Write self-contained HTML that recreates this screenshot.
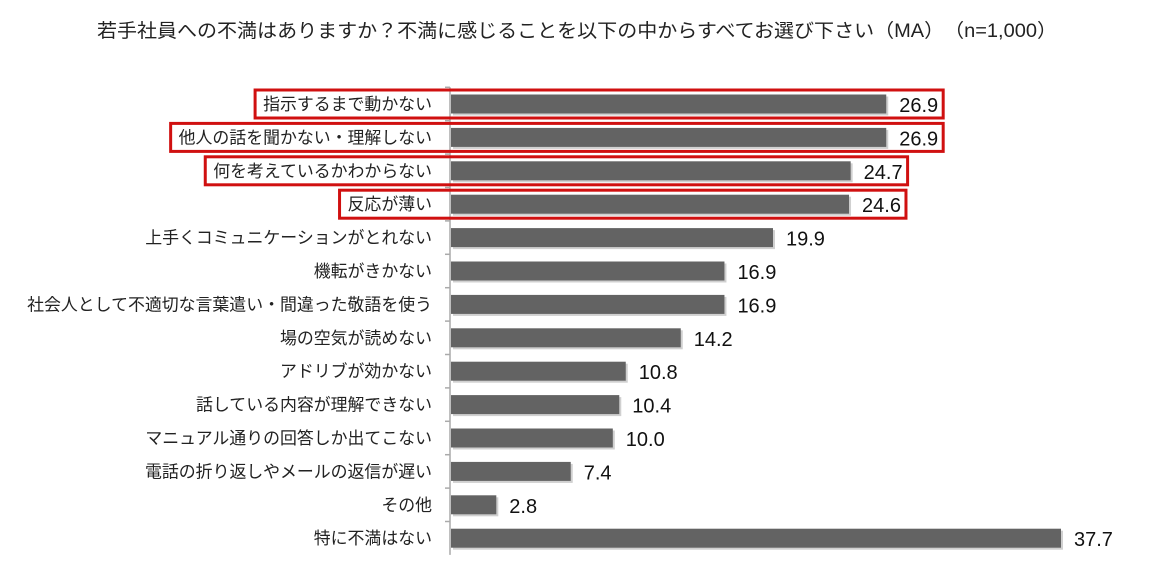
<!DOCTYPE html>
<html><head><meta charset="utf-8"><style>
body{margin:0;background:#fff;width:1164px;height:569px;overflow:hidden;font-family:"Liberation Sans","Noto Sans CJK JP",sans-serif}
</style></head><body>
<svg id="chart" width="1164" height="569" xmlns="http://www.w3.org/2000/svg" font-family="'Liberation Sans','Noto Sans CJK JP',sans-serif">
<text x="577" y="37" text-anchor="middle" font-size="19" fill="#222" textLength="960" lengthAdjust="spacingAndGlyphs">若手社員への不満はありますか？不満に感じることを以下の中からすべてお選び下さい（MA）　（n=1,000）</text>
<g id="axis"></g><g id="bars"></g><g id="boxes"></g>
</svg>
<script>
const categories=["指示するまで動かない","他人の話を聞かない・理解しない","何を考えているかわからない","反応が薄い","上手くコミュニケーションがとれない","機転がきかない","社会人として不適切な言葉遣い・間違った敬語を使う","場の空気が読めない","アドリブが効かない","話している内容が理解できない","マニュアル通りの回答しか出てこない","電話の折り返しやメールの返信が遅い","その他","特に不満はない"];
const values=[26.9,26.9,24.7,24.6,19.9,16.9,16.9,14.2,10.8,10.4,10.0,7.4,2.8,37.7];
const valueLabels=["26.9","26.9","24.7","24.6","19.9","16.9","16.9","14.2","10.8","10.4","10.0","7.4","2.8","37.7"];
const highlighted=[true,true,true,true,false,false,false,false,false,false,false,false,false,false];
const NS="http://www.w3.org/2000/svg";
const x0=451,scale=(1061-451)/37.7,y0=104,step=33.4,bh=19;
const xs=v=>x0+v*scale, ys=i=>y0+i*step;
function mk(t,a,p){const e=document.createElementNS(NS,t);for(const k in a)e.setAttribute(k,a[k]);p.appendChild(e);return e;}
const ax=document.getElementById('axis'),bars=document.getElementById('bars'),boxes=document.getElementById('boxes');
const axl=mk('line',{x1:450,x2:450,y1:ys(0)-step/2,y2:ys(categories.length-1)+step/2,stroke:'#aaa','stroke-width':1.5},ax);


categories.forEach((c,i)=>{
  const y=ys(i);
  mk('line',{x1:445,x2:450,y1:y-step/2,y2:y-step/2,stroke:'#aaa','stroke-width':1.5},ax);
  const lab=mk('text',{x:432,y:y+6,'text-anchor':'end','font-size':16.9,fill:'#222'},ax);
  lab.textContent=c;
  
  
  const w=xs(values[i])-x0;
  mk('rect',{x:x0+2,y:y-bh/2+2,width:w,height:bh,fill:'#d0d0d0'},bars);
  const r=mk('rect',{x:x0,y:y-bh/2,width:w,height:bh,fill:'#636363'},bars);
  
  
  const vt=mk('text',{x:xs(values[i])+13,y:y+8,'font-size':20,fill:'#111'},bars);
  vt.textContent=valueLabels[i];
  
  
  if(highlighted[i]){
    const lw=lab.getComputedTextLength();
    const vw=vt.getComputedTextLength();
    const bx=mk('rect',{x:432-lw-8,y:y-14,width:(xs(values[i])+13+vw+5)-(432-lw-8),height:28,fill:'none',stroke:'#d01010','stroke-width':3},boxes);
    
    
  }
});
</script>
</body></html>
